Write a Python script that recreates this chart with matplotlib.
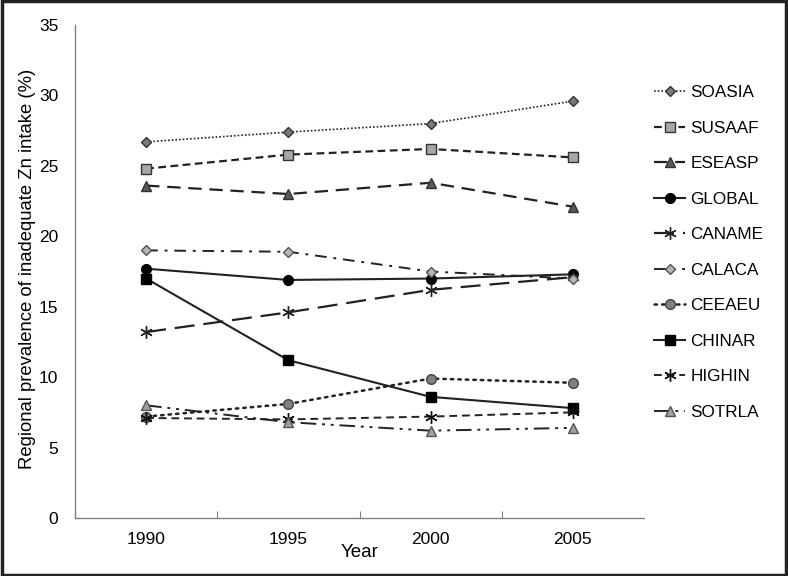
import matplotlib
matplotlib.use("Agg")
import matplotlib.pyplot as plt
from matplotlib.patches import Rectangle

plt.rcParams['font.family'] = ['Liberation Sans', 'DejaVu Sans']

years = ["1990", "1995", "2000", "2005"]
SOASIA = [26.7, 27.4, 28.0, 29.6]
SUSAAF = [24.8, 25.8, 26.2, 25.6]
ESEASP = [23.6, 23.0, 23.8, 22.1]
GLOBAL = [17.7, 16.9, 17.0, 17.3]
CANAME = [13.2, 14.6, 16.2, 17.1]
CALACA = [19.0, 18.9, 17.5, 17.0]
CEEAEU = [7.2, 8.1, 9.9, 9.6]
CHINAR = [17.0, 11.2, 8.6, 7.8]
HIGHIN = [7.1, 7.0, 7.2, 7.5]
SOTRLA = [8.0, 6.8, 6.2, 6.4]

series = [
    ("SOASIA", SOASIA, dict(ls=(0, (1, 1.2)), lw=1.2, marker='D', ms=5.5, mfc='#7a7a7a', mec='#333333')),
    ("SUSAAF", SUSAAF, dict(ls=(0, (3.5, 2)), lw=1.6, marker='s', ms=7, mfc='#a6a6a6', mec='#333333')),
    ("ESEASP", ESEASP, dict(ls=(0, (6, 3.5)), lw=1.6, marker='^', ms=7.5, mfc='#595959', mec='#333333')),
    ("GLOBAL", GLOBAL, dict(ls='-', lw=1.5, marker='o', ms=7, mfc='black', mec='black')),
    ("CANAME", CANAME, dict(ls=(0, (9, 4)), lw=1.6, marker=(6, 2, 0), ms=9, mfc='none', mec='#222222', mew=1.0)),
    ("CALACA", CALACA, dict(ls=(0, (6, 3.5, 1.5, 3.5)), lw=1.4, marker='D', ms=5.5, mfc='#b5b5b5', mec='#555555')),
    ("CEEAEU", CEEAEU, dict(ls=(0, (1, 2)), lw=1.8, marker='o', ms=7, mfc='#808080', mec='#444444', dash_capstyle='round')),
    ("CHINAR", CHINAR, dict(ls='-', lw=1.5, marker='s', ms=7, mfc='black', mec='black')),
    ("HIGHIN", HIGHIN, dict(ls=(0, (4, 2.5)), lw=1.4, marker=(6, 2, 0), ms=9, mfc='none', mec='#111111', mew=1.0)),
    ("SOTRLA", SOTRLA, dict(ls=(0, (8, 3, 1.5, 3, 1.5, 3)), lw=1.4, marker='^', ms=7.5, mfc='#a0a0a0', mec='#555555')),
]

fig = plt.figure(figsize=(7.88, 5.76), dpi=100)
ax = fig.add_axes([75/788, 1-518/576, (644-75)/788, (518-25)/576])

x = list(range(len(years)))
for name, vals, st in series:
    ax.plot(x, vals, color='#222222', label=name, **st)

ax.set_xlim(-0.5, 3.5)
ax.set_ylim(0, 35)
ax.set_yticks(range(0, 36, 5))
ax.tick_params(axis='y', length=0, pad=12, labelsize=12.5)
ax.set_xticks([0.5, 1.5, 2.5])
ax.set_xticklabels([])
ax.tick_params(axis='x', which='major', direction='in', length=5, color='#808080')
ax.set_xticks(x, minor=True)
ax.set_xticklabels(years, minor=True)
ax.tick_params(axis='x', which='minor', length=0, pad=10, labelsize=12.5)

for s in ['top', 'right']:
    ax.spines[s].set_visible(False)
for s in ['left', 'bottom']:
    ax.spines[s].set_color('#808080')
    ax.spines[s].set_linewidth(1.0)

ax.set_xlabel("Year", fontsize=13.5, labelpad=-2)
ax.set_ylabel("Regional prevalence of inadequate Zn intake (%)", fontsize=13.3)
ax.yaxis.set_label_coords(-39/569, 0.505)

leg = fig.legend(loc='upper left', bbox_to_anchor=(639/788, 1-70/576), frameon=False,
                 fontsize=12.3, handlelength=1.8, handletextpad=0.3, labelspacing=1.2)

fig.patches.append(Rectangle((0.002, 0.002), 0.996, 0.996, transform=fig.transFigure,
                             fill=False, edgecolor='#222222', linewidth=2.5))

fig.savefig("out.png", dpi=100)
